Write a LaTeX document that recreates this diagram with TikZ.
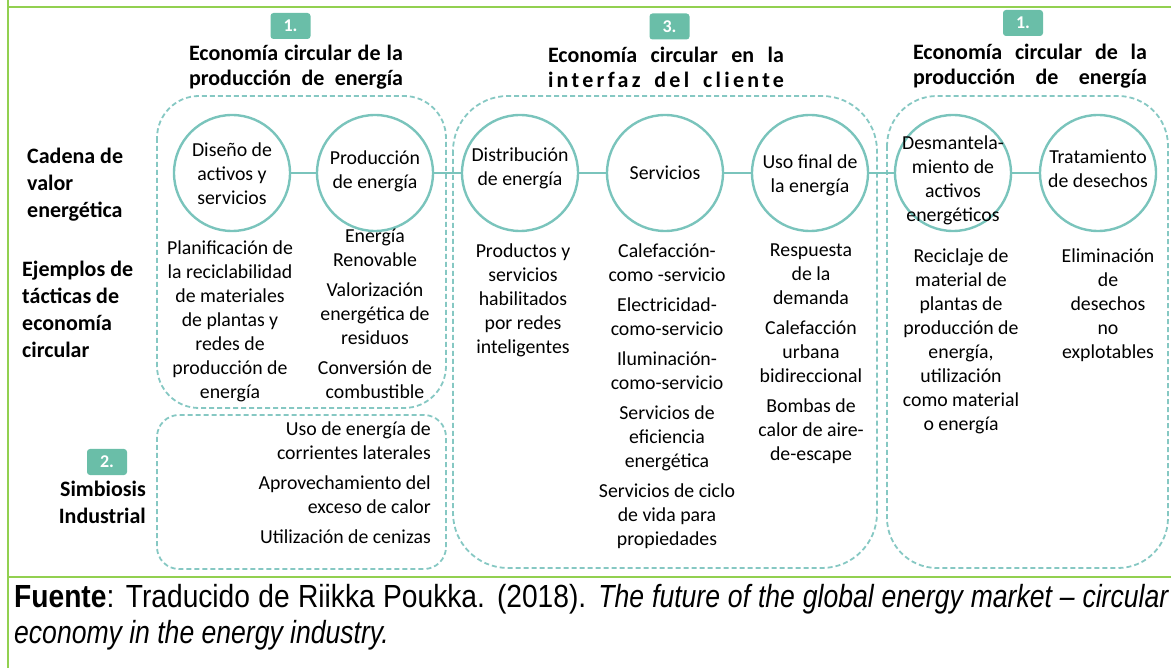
\documentclass[tikz,border=0pt]{standalone}
\usepackage{fontspec}
\setmainfont{Carlito}
\newfontfamily\captionfont[FakeStretch=0.88]{Liberation Sans}
\newfontfamily\captionitfont[FakeStretch=0.83]{Liberation Sans}
\usetikzlibrary{positioning}
\definecolor{ringteal}{RGB}{122,196,188}
\definecolor{dashteal}{RGB}{134,200,195}
\definecolor{badgeteal}{RGB}{106,190,168}
\definecolor{framegreen}{RGB}{146,208,80}
\tikzset{
	ring/.style={circle, draw=ringteal, line width=2.4pt, minimum size=116pt, inner sep=0pt},
	link/.style={draw=ringteal, line width=2.4pt},
	zone/.style={draw=dashteal, line width=1.8pt, dash pattern=on 5pt off 3pt},
	frame/.style={draw=framegreen, line width=2.6pt},
	badge/.style={fill=badgeteal, rounded corners=3pt, minimum width=40pt, minimum height=26pt, inner sep=0pt, text=white, font=\fontsize{18}{20}\selectfont\bfseries},
	heading/.style={font=\fontsize{22}{25}\selectfont\bfseries, align=center, anchor=north, inner sep=0pt, execute at begin node=\strut},
	rowlabel/.style={font=\fontsize{22}{27}\selectfont\bfseries, inner sep=0pt, execute at begin node=\strut},
	ringtext/.style={font=\fontsize{19.8}{24}\selectfont, align=center, anchor=north, inner sep=0pt, execute at begin node=\strut},
	tactic/.style={ringtext},
	source/.style={anchor=base west, inner sep=0pt, font=\captionfont\fontsize{32}{38}\selectfont}
}
\begin{document}
\begin{tikzpicture}[x=1pt,y=-1pt]
	\useasboundingbox (0,0) rectangle (1171,668);
%
	\draw[frame] (8,0) -- (8,668);
	\draw[frame] (8,7) -- (1171,7);
	\draw[frame] (8,577) -- (1171,577);
%
	\draw[zone, rounded corners=42pt] (157,96) rectangle (446,408);
	\draw[zone, rounded corners=22pt] (157,415) rectangle (446,569);
	\draw[zone, rounded corners=55pt] (453,96) rectangle (877,568);
	\draw[zone, rounded corners=50pt] (887,96) rectangle (1168,568);
%
	\node[badge] (badgeA) at (290.5,26) {1.};
	\node[heading] (titleA) at (296,44.5) {\makebox[214pt][s]{Economía circular de la}\\\makebox[214pt][s]{producción de energía}};
	\node[badge] (badgeC) at (669.5,26.5) {3.};
	\node[heading] (titleC) at (666,46.5) {\makebox[236pt][s]{Economía circular en la}\\\makebox[236pt][s]{\addfontfeature{LetterSpace=15}interfaz del cliente}};
	\node[badge] (badgeD) at (1023,23) {1.};
	\node[heading] (titleD) at (1030,43.5) {\makebox[234pt][s]{Economía circular de la}\\\makebox[234pt][s]{producción de energía}};
%
	\node[rowlabel, anchor=north west, align=left] (cadena) at (27,148) {Cadena de\\valor\\energética};
	\node[rowlabel, anchor=north west, align=left] (ejemplos) at (22,261) {Ejemplos de\\tácticas de\\economía\\circular};
	\node[badge] (badgeB) at (107,462) {2.};
	\node[rowlabel, anchor=north east, align=right] (simbiosis) at (146,481) {Simbiosis\\Industrial};
%
	\node[ring] (diseno) at (232,173) {};
	\node[ring] (produccion) at (375,173) {};
	\node[ring] (distribucion) at (520,173) {};
	\node[ring] (servicios) at (665,173) {};
	\node[ring] (usofinal) at (810,173) {};
	\node[ring] (desmantela) at (953,173) {};
	\node[ring] (tratamiento) at (1098,173) {};
	\foreach \a/\b in {diseno/produccion,produccion/distribucion,distribucion/servicios,servicios/usofinal,usofinal/desmantela,desmantela/tratamiento}
		\draw[link] (\a) -- (\b);
%
	\node[ringtext] at ([yshift=30.8pt]diseno.center) {Diseño de\\activos y\\servicios};
	\node[ringtext] at ([yshift=22.8pt]produccion.center) {Producción\\de energía};
	\node[ringtext] at ([yshift=25.8pt]distribucion.center) {Distribución\\de energía};
	\node[ringtext] at ([yshift=10.8pt]servicios.center) {Servicios};
	\node[ringtext] at ([yshift=18.8pt]usofinal.center) {Uso final de\\la energía};
	\node[ringtext] at ([yshift=37.8pt]desmantela.center) {Desmantela-\\miento de\\activos\\energéticos};
	\node[ringtext] at ([yshift=23.8pt]tratamiento.center) {Tratamiento\\de desechos};
%
	\node[tactic] (tac1) at (230,241) {Planificación de\\la reciclabilidad\\de materiales\\de plantas y\\redes de\\producción de\\energía};
	\node[tactic] (tac2) at (375,229) {Energía\\Renovable\\[6pt]Valorización\\energética de\\residuos\\[6pt]Conversión de\\combustible};
	\node[tactic, anchor=north east, align=right] (tacB) at (431,422) {Uso de energía de\\corrientes laterales\\[6pt]Aprovechamiento del\\exceso de calor\\[6pt]Utilización de cenizas};
	\node[tactic] (tac3) at (523,244) {Productos y\\servicios\\habilitados\\por redes\\inteligentes};
	\node[tactic] (tac4) at (667,244) {Calefacción-\\como -servicio\\[6pt]Electricidad-\\como-servicio\\[6pt]Iluminación-\\como-servicio\\[6pt]Servicios de\\eficiencia\\energética\\[6pt]Servicios de ciclo\\de vida para\\propiedades};
	\node[tactic] (tac5) at (811,244) {Respuesta\\de la\\demanda\\[6pt]Calefacción\\urbana\\bidireccional\\[6pt]Bombas de\\calor de aire-\\de-escape};
	\node[tactic] (tac6) at (961,249) {Reciclaje de\\material de\\plantas de\\producción de\\energía,\\utilización\\como material\\o energía};
	\node[tactic] (tac7) at (1108,249) {Eliminación\\de\\desechos\\no\\explotables};
%
	\node[source] (fuente) at (14,607) {\makebox[1154pt][s]{\textbf{Fuente}: Traducido de Riikka Poukka. (2018). {\captionitfont\itshape The future of the global energy market – circular}}};
	\node[source] (fuente2) at (14,643) {\captionitfont\itshape economy in the energy industry.};
\end{tikzpicture}
\end{document}
